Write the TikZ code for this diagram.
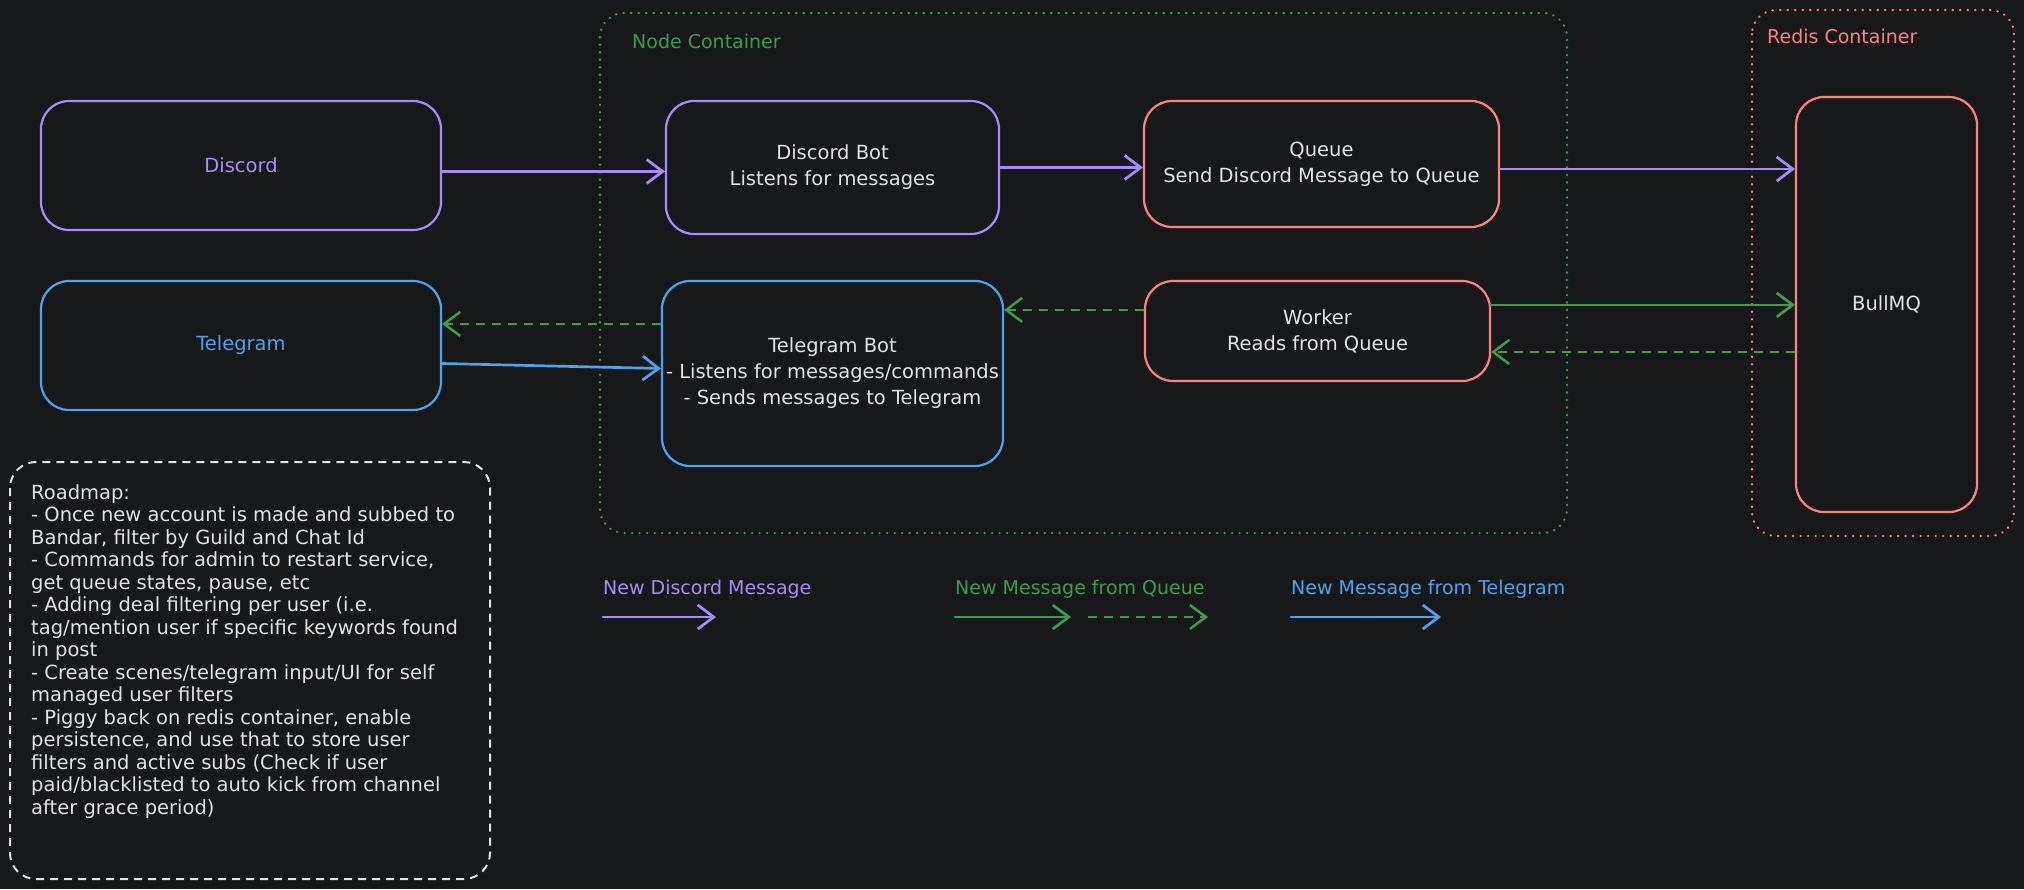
\documentclass[tikz,border=0pt]{standalone}
\usepackage{fontspec}
\setmainfont{DejaVu Sans}
\usetikzlibrary{arrows.meta}

\definecolor{bgdark}{HTML}{17181A}
\definecolor{dpurple}{HTML}{A78BFA}
\definecolor{tblue}{HTML}{4DA3EE}
\definecolor{qred}{HTML}{FF8080}
\definecolor{mgreen}{HTML}{3A9E4A}
\definecolor{inkwhite}{HTML}{E3E3E3}

\begin{document}
\begin{tikzpicture}[x=1pt, y=-1pt,
  >={Straight Barb[length=16pt,width=24pt]},
  blockbox/.style={draw, rounded corners=28pt, line width=2.2pt, text=inkwhite, align=center, font=\fontsize{19.5}{26}\selectfont},
  flow/.style={->, line width=2.7pt, line cap=round},
  backflow/.style={->, line width=2.5pt, dash pattern=on 9pt off 7pt, mgreen},
  contbox/.style={line width=2.2pt, dash pattern=on 0.5pt off 7pt, line cap=round, rounded corners=24pt},
  legendtext/.style={anchor=west, inner sep=0pt, font=\fontsize{19}{24}\selectfont}]

  \fill[bgdark] (0,0) rectangle (2024,889);
  \useasboundingbox (0,0) rectangle (2024,889);

  \draw[contbox, mgreen] (600,13) rectangle (1567,533);
  \draw[contbox, qred] (1752,10) rectangle (2014,536);
  \node[legendtext, mgreen] (nodelbl) at (632,41) {Node Container};
  \node[legendtext, qred] (redislbl) at (1767,36) {Redis Container};

  \node[blockbox, draw=dpurple, text=dpurple, minimum width=400pt, minimum height=129pt] (discord) at (241,165.5) {Discord};
  \node[blockbox, draw=tblue, text=tblue, minimum width=400pt, minimum height=129pt] (telegram) at (241,345.5) {Telegram};
  \node[blockbox, draw=dpurple, minimum width=333pt, minimum height=133pt] (dbot) at (832.5,167.5) {Discord Bot\\Listens for messages};
  \node[blockbox, draw=tblue, minimum width=341pt, minimum height=185pt] (tbot) at (832.5,373.5) {Telegram Bot\\- Listens for messages/commands\\- Sends messages to Telegram};
  \node[blockbox, draw=qred, minimum width=355pt, minimum height=126pt] (queue) at (1321.5,164) {Queue\\Send Discord Message to Queue};
  \node[blockbox, draw=qred, minimum width=345pt, minimum height=100pt] (worker) at (1317.5,331) {Worker\\Reads from Queue};
  \node[blockbox, draw=qred, minimum width=181pt, minimum height=415pt] (bull) at (1886.5,304.5) {BullMQ};

  \draw[flow, dpurple] ([yshift=-6pt]discord.east) -- ([yshift=-4pt]dbot.west);
  \draw[flow, dpurple] (dbot.east) -- (dbot.east -| queue.west);
  \draw[flow, dpurple] ([yshift=-5pt]queue.east) -- ([yshift=-5pt]queue.east -| bull.west);
  \draw[flow, mgreen] ([yshift=-25pt]worker.north east) -- ([yshift=-25pt]worker.north east -| bull.west);
  \draw[backflow] ([yshift=-21pt]worker.east -| bull.west) -- ([yshift=-21pt]worker.east);
  \draw[backflow] ([yshift=-30pt]worker.north west) -- ([yshift=-30pt]worker.north west -| tbot.east);
  \draw[backflow] ([yshift=-44pt]tbot.north west) -- ([yshift=-44pt]tbot.north west -| telegram.east);
  \draw[flow, tblue] ([yshift=-18pt]telegram.east) -- ([yshift=-23pt]telegram.east -| tbot.west);

  \draw[line width=2pt, inkwhite, dash pattern=on 8pt off 6pt, rounded corners=26pt] (10,462) rectangle (490,879);
  \node[anchor=north west, inner sep=0pt, align=left, text=inkwhite, font=\fontsize{19.5}{22.5}\selectfont] (roadmap) at (31,484) {Roadmap:\\
- Once new account is made and subbed to\\
Bandar, filter by Guild and Chat Id\\
- Commands for admin to restart service,\\
get queue states, pause, etc\\
- Adding deal filtering per user (i.e.\\
tag/mention user if specific keywords found\\
in post\\
- Create scenes/telegram input/UI for self\\
managed user filters\\
- Piggy back on redis container, enable\\
persistence, and use that to store user\\
filters and active subs (Check if user\\
paid/blacklisted to auto kick from channel\\
after grace period)};

  \node[legendtext, dpurple] (lgdiscord) at (603,589) {New Discord Message};
  \node[legendtext, mgreen] (lgqueue) at (955,589) {New Message from Queue};
  \node[legendtext, tblue] (lgtelegram) at (1291,589) {New Message from Telegram};
  \coordinate (ld0) at (603,617);
  \coordinate (ld1) at (716,617);
  \coordinate (lq0) at (955,617);
  \coordinate (lq1) at (1071,617);
  \coordinate (lq2) at (1088,617);
  \coordinate (lq3) at (1208,617);
  \coordinate (lt0) at (1291,617);
  \coordinate (lt1) at (1441,617);
  \draw[flow, dpurple] (ld0) -- (ld1);
  \draw[flow, mgreen] (lq0) -- (lq1);
  \draw[backflow] (lq2) -- (lq3);
  \draw[flow, tblue] (lt0) -- (lt1);

\end{tikzpicture}
\end{document}
